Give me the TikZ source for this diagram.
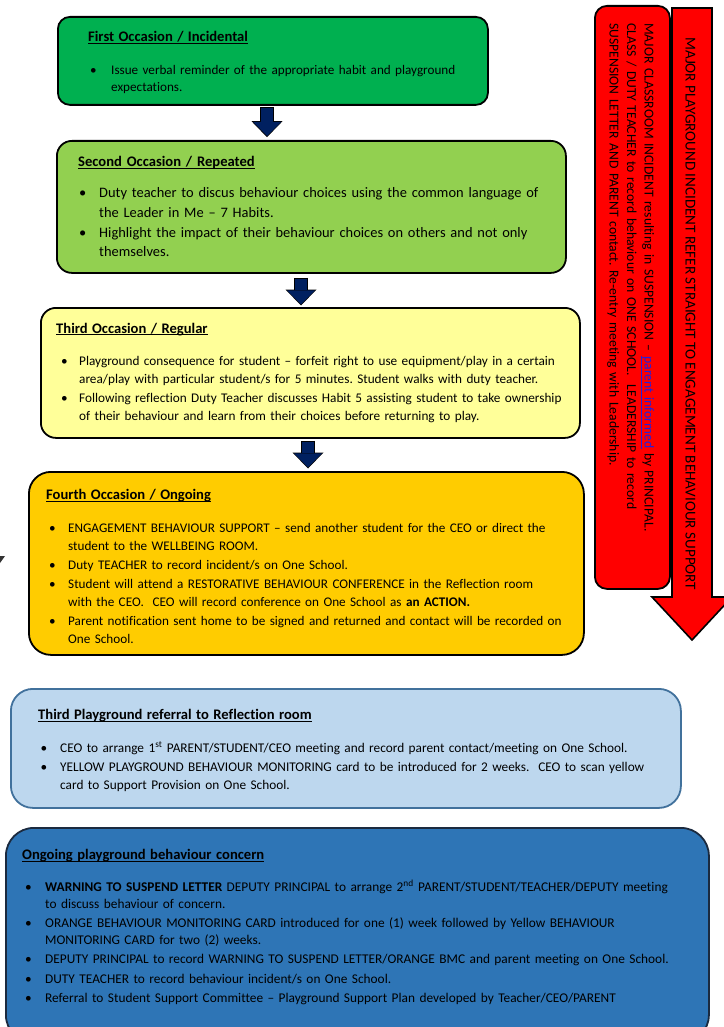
\documentclass[tikz,border=0pt]{standalone}
\usepackage{fontspec}
\setmainfont[Ligatures={TeX,NoCommon}]{Carlito}
\usetikzlibrary{arrows.meta,calc}
\frenchspacing
\definecolor{gA}{HTML}{00B050}
\definecolor{gB}{HTML}{92D050}
\definecolor{yA}{HTML}{FFFF99}
\definecolor{yB}{HTML}{FFCC00}
\definecolor{bA}{HTML}{BDD7EE}
\definecolor{bAline}{HTML}{41719C}
\definecolor{bB}{HTML}{2E75B6}
\definecolor{bBline}{HTML}{1B2A3F}
\definecolor{navyA}{HTML}{002060}
\definecolor{redA}{HTML}{FF0000}
\definecolor{lnkblue}{HTML}{2020E0}
\newcommand{\ttl}[1]{{\fontsize{14.6}{18}\selectfont\bfseries\setbox0=\hbox{#1}\rlap{\rule[-2pt]{\wd0}{0.9pt}}\box0}}
\newcommand{\itm}[3]{\par\noindent\hangindent=#2\hangafter=1\hspace*{#1}\makebox[0pt][l]{\textbullet}\hspace*{\dimexpr#2-#1\relax}#3\par}
\tikzset{
  boxs/.style={draw=black, line width=1.8pt, anchor=north west, inner sep=0pt},
  txt/.style={anchor=base west, inner sep=0pt, text width=660pt, align=left},
  barO/.style={draw=black, line width=14pt, -{Triangle[width=31pt,length=16pt,line width=0pt]}},
  barI/.style={draw=navyA, line width=12pt, -{Triangle[width=28pt,length=14pt,line width=0pt]}},
}
\begin{document}
\begin{tikzpicture}[x=1pt,y=-1pt]
\useasboundingbox (0,0) rectangle (723,1027);
\fill[white] (0,0) rectangle (723,1027);

% red major-incident arrow and box
\draw[line width=1.6pt, fill=redA, line join=miter] (672,8) -- (712,8) -- (712,597) -- (732,597) -- (692,640) -- (652,597) -- (672,597) -- cycle;
\node[rotate=-90, anchor=base west, inner sep=0pt, font=\fontsize{15.1}{18}\selectfont] (arrtxt) at (685.5,37) {MAJOR PLAYGROUND INCIDENT REFER STRAIGHT TO ENGAGEMENT BEHAVIOUR SUPPORT};
\node[boxs, fill=redA, rounded corners=12pt, minimum width=75pt, minimum height=583pt] (rb) at (594,5) {};
\node[rotate=-90, anchor=base west, inner sep=0pt, text width=560pt, align=left, font=\fontsize{13.65}{17.5}\selectfont] (rbt) at (644.5,23) {MAJOR CLASSROOM INCIDENT resulting in SUSPENSION -- {\color{lnkblue}\underline{parent informed}} by PRINCIPAL.\newline
CLASS / DUTY TEACHER to record behaviour on ONE SCHOOL.~ LEADERSHIP to record\newline
SUSPENSION LETTER AND PARENT contact. Re-entry meeting with Leadership.};

% small fragment at left edge
\fill[black!80] (0,556) -- (5,556) -- (0,563) -- cycle;

% boxes
\node[boxs, fill=gA, rounded corners=12pt, minimum width=430pt, minimum height=88pt] (b1) at (57,16) {};
\node[boxs, fill=gB, rounded corners=15pt, minimum width=509pt, minimum height=132pt] (b2) at (56,140) {};
\node[boxs, fill=yA, rounded corners=15pt, minimum width=539pt, minimum height=130pt] (b3) at (40,307) {};
\node[boxs, fill=yB, rounded corners=22pt, minimum width=555pt, minimum height=183pt] (b4) at (28,471) {};
\node[boxs, draw=bAline, fill=bA, rounded corners=22pt, minimum width=670pt, minimum height=119pt] (b5) at (10,688) {};
\node[boxs, draw=bBline, fill=bB, rounded corners=28pt, minimum width=703pt, minimum height=215pt] (b6) at (5,827) {};

% box texts
\node[txt, font=\fontsize{13.15}{17}\selectfont] (t1) at (88,41.5) {\ttl{First Occasion / Incidental}\par\vspace{16pt}
\itm{2pt}{23pt}{Issue verbal reminder of the appropriate habit and playground\newline expectations.}};

\node[txt, font=\fontsize{14.45}{19.6}\selectfont] (t2) at (78,167) {\ttl{Second Occasion / Repeated}\par\vspace{11.4pt}
\itm{1pt}{21pt}{Duty teacher to discus behaviour choices using the common language of\newline the Leader in Me -- 7 Habits.}
\itm{1pt}{21pt}{Highlight the impact of their behaviour choices on others and not only\newline themselves.}};

\node[txt, font=\fontsize{13.25}{18}\selectfont] (t3) at (56,333) {\ttl{Third Occasion / Regular}\par\vspace{14pt}
\itm{5pt}{23pt}{Playground consequence for student -- forfeit right to use equipment/play in a certain\newline area/play with particular student/s for 5 minutes. Student walks with duty teacher.}\vspace{1pt}
\itm{5pt}{23pt}{Following reflection Duty Teacher discusses Habit 5 assisting student to take ownership\newline of their behaviour and learn from their choices before returning to play.}};

\node[txt, font=\fontsize{13.2}{18}\selectfont] (t4) at (46,499.5) {\ttl{Fourth Occasion / Ongoing}\par\vspace{15pt}
\itm{3pt}{22pt}{ENGAGEMENT BEHAVIOUR SUPPORT -- send another student for the CEO or direct the\newline student to the WELLBEING ROOM.}\vspace{1pt}
\itm{3pt}{22pt}{Duty TEACHER to record incident/s on One School.}\vspace{1pt}
\itm{3pt}{22pt}{Student will attend a RESTORATIVE BEHAVIOUR CONFERENCE in the Reflection room\newline with the CEO.~ CEO will record conference on One School as \textbf{an ACTION.}}\vspace{1pt}
\itm{3pt}{22pt}{Parent notification sent home to be signed and returned and contact will be recorded on\newline One School.}};

\node[txt, font=\fontsize{13.3}{18.5}\selectfont] (t5) at (38,719.5) {\ttl{Third Playground referral to Reflection room}\par\vspace{14.5pt}
\itm{2.5pt}{22pt}{CEO to arrange 1\textsuperscript{st} PARENT/STUDENT/CEO meeting and record parent contact/meeting on One School.}
\itm{2.5pt}{22pt}{YELLOW PLAYGROUND BEHAVIOUR MONITORING card to be introduced for 2 weeks.~ CEO to scan yellow\newline card to Support Provision on One School.}};

\node[txt, font=\fontsize{13.35}{16.5}\selectfont] (t6) at (22,859.5) {\ttl{Ongoing playground behaviour concern}\par\vspace{15.5pt}
\itm{3pt}{23pt}{\textbf{WARNING TO SUSPEND LETTER} DEPUTY PRINCIPAL to arrange 2\textsuperscript{nd} PARENT/STUDENT/TEACHER/DEPUTY meeting\newline to discuss behaviour of concern.}\vspace{3pt}
\itm{3pt}{23pt}{ORANGE BEHAVIOUR MONITORING CARD introduced for one (1) week followed by Yellow BEHAVIOUR\newline MONITORING CARD for two (2) weeks.}\vspace{3pt}
\itm{3pt}{23pt}{DEPUTY PRINCIPAL to record WARNING TO SUSPEND LETTER/ORANGE BMC and parent meeting on One School.}\vspace{3pt}
\itm{3pt}{23pt}{DUTY TEACHER to record behaviour incident/s on One School.}\vspace{3pt}
\itm{3pt}{23pt}{Referral to Student Support Committee -- Playground Support Plan developed by Teacher/CEO/PARENT}};

% block arrows between boxes
\coordinate (a1) at (267,0);
\coordinate (a2) at (301,0);
\coordinate (a3) at (308,0);
\draw[barO] ($(b1.south -| a1)+(0,1)$) -- ($(b2.north -| a1)+(0,-2.8)$);
\draw[barI] ($(b1.south -| a1)+(0,2)$) -- ($(b2.north -| a1)+(0,-4)$);
\draw[barO] ($(b2.south -| a2)+(0,4)$) -- ($(b3.north -| a2)+(0,-1.5)$);
\draw[barI] ($(b2.south -| a2)+(0,5)$) -- ($(b3.north -| a2)+(0,-2.7)$);
\draw[barO] ($(b3.south -| a3)+(0,2)$) -- ($(b4.north -| a3)+(0,-2.5)$);
\draw[barI] ($(b3.south -| a3)+(0,3)$) -- ($(b4.north -| a3)+(0,-3.7)$);
\end{tikzpicture}
\end{document}
